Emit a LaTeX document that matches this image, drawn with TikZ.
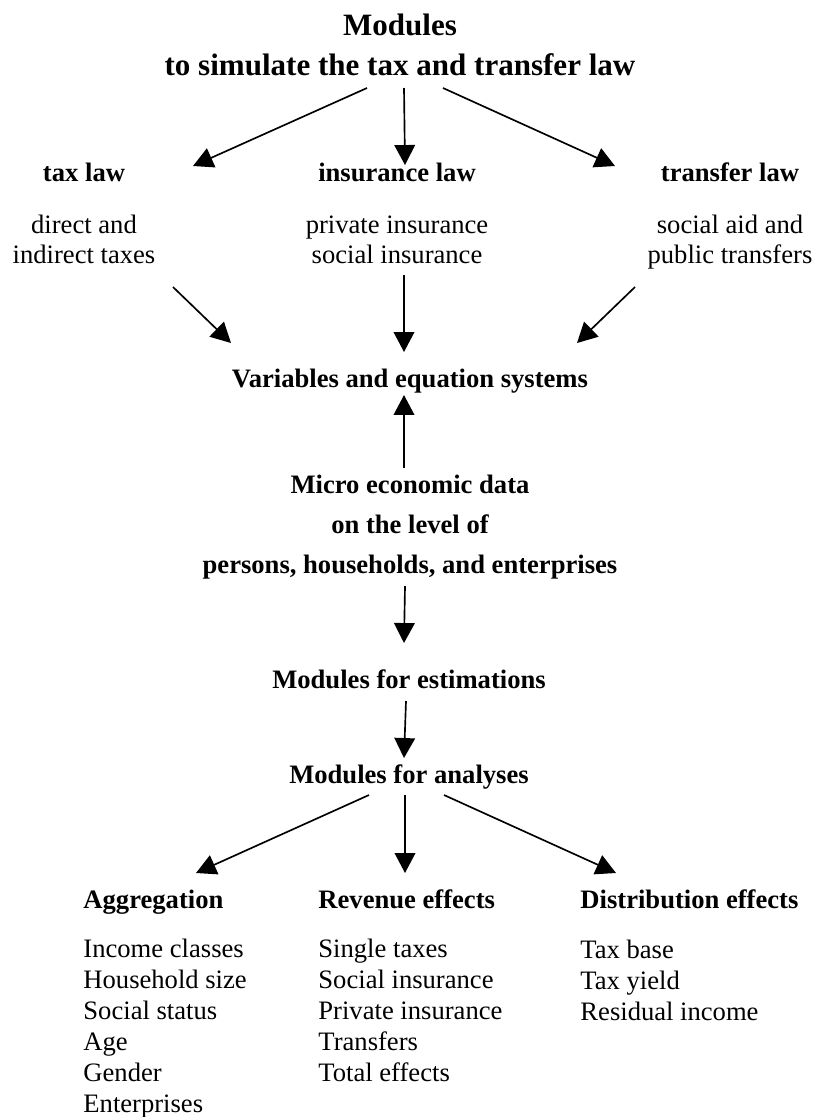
\documentclass[tikz,border=0pt]{standalone}
\usepackage{fontspec}
\setmainfont{Liberation Serif}
\usetikzlibrary{arrows.meta}

\begin{document}
\begin{tikzpicture}[x=0.451pt, y=-0.451pt,
    every node/.style={inner sep=0pt, anchor=base},
    head/.style={font=\fontsize{12}{13.5}\selectfont\bfseries},
    txt/.style={font=\fontsize{12}{13.5}\selectfont, align=center},
    lst/.style={font=\fontsize{12}{13.9}\selectfont, align=left, anchor=base west},
    arr/.style={-{Triangle[length=9pt,width=9.3pt]}, line width=0.75pt}]
  \useasboundingbox (0,0) rectangle (814,1117);

  % simulation modules (multi-line nodes sit on their last line)
  \node (title) [font=\fontsize{14}{18}\selectfont\bfseries, align=center] at (400,75)
    {Modules\\to simulate the tax and transfer law};
  \node (taxlaw) [head] at (84,181) {tax law};
  \node (inslaw) [head] at (397,181) {insurance law};
  \node (trlaw) [head] at (730,181) {transfer law};
  \node (taxtext) [txt] at (84,263) {direct and\\indirect taxes};
  \node (instext) [txt] at (397,263) {private insurance\\social insurance};
  \node (trtext) [txt] at (730,263) {social aid and\\public transfers};

  % data
  \node (vars) [head] at (410,387) {Variables and equation systems};
  \node (micro) [font=\fontsize{12}{18}\selectfont\bfseries, align=center] at (410,573)
    {Micro economic data\\on the level of\\persons, households, and enterprises};
  \node (estim) [head] at (409,688) {Modules for estimations};
  \node (analy) [head] at (409,783) {Modules for analyses};

  % results
  \node (agg) [head, anchor=base west] at (83,908) {Aggregation};
  \node (rev) [head, anchor=base west] at (318,908) {Revenue effects};
  \node (dist) [head, anchor=base west] at (580,908) {Distribution effects};
  \node (agglist) [lst] at (83,1112)
    {Income classes\\Household size\\Social status\\Age\\Gender\\Enterprises};
  \node (revlist) [lst] at (318,1081)
    {Single taxes\\Social insurance\\Private insurance\\Transfers\\Total effects};
  \node (distlist) [lst] at (580,1020) {Tax base\\Tax yield\\Residual income};

  % arrows
  \draw[arr] ([shift={(-33,13)}]title.base) -- ([shift={(109,-15)}]taxlaw.base);
  \draw[arr] ([shift={(4,13)}]title.base) -- ([shift={(8,-16)}]inslaw.base);
  \draw[arr] ([shift={(43,13)}]title.base) -- ([shift={(-115,-15)}]trlaw.base);
  \draw[arr] ([shift={(89,24)}]taxtext.base) -- ([shift={(-179,-44)}]vars.base);
  \draw[arr] ([shift={(7,12)}]instext.base) -- ([shift={(-6,-35)}]vars.base);
  \draw[arr] ([shift={(-95,24)}]trtext.base) -- ([shift={(167,-44)}]vars.base);
  \draw[arr, {Triangle[length=9pt,width=9.3pt]}-] ([shift={(-6,8)}]vars.base) -- ([shift={(-6,-105)}]micro.base);
  \draw[arr] ([shift={(-5,13)}]micro.base) -- ([shift={(-5,-45)}]estim.base);
  \draw[arr] ([shift={(-3,13)}]estim.base) -- ([shift={(-5,-25)}]analy.base);
  \draw[arr] ([shift={(-40,12)}]analy.base) -- ([shift={(113,-35)}]agg.base west);
  \draw[arr] ([shift={(-4,12)}]analy.base) -- ([shift={(87,-35)}]rev.base west);
  \draw[arr] ([shift={(35,12)}]analy.base) -- ([shift={(36,-35)}]dist.base west);
\end{tikzpicture}
\end{document}
